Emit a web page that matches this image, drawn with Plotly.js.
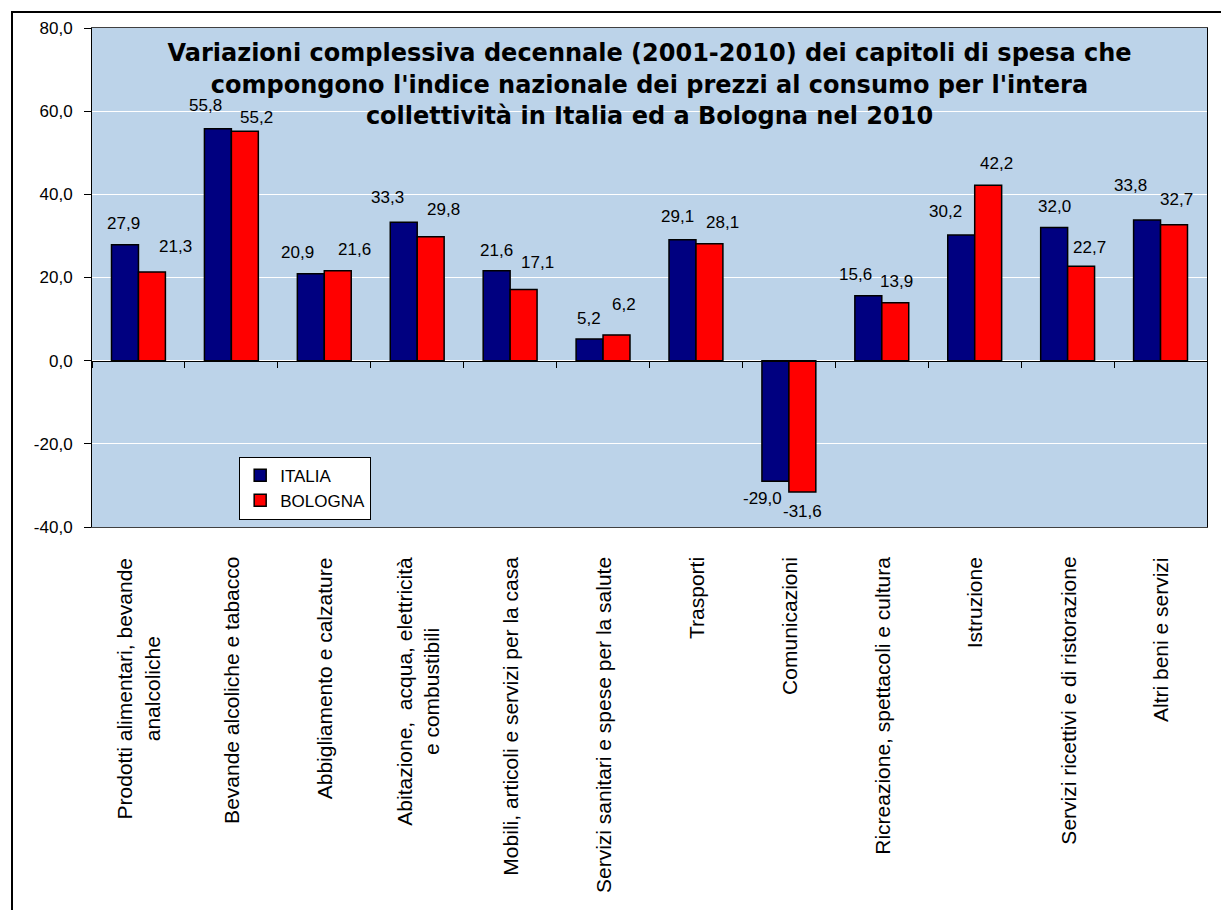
<!DOCTYPE html>
<html>
<head>
<meta charset="utf-8">
<script src="https://cdn.plot.ly/plotly-3.0.1.min.js"></script>
<style>
html,body{margin:0;padding:0;background:#fff;overflow:hidden;}
#wrap{position:relative;width:1221px;height:910px;}
#chart{position:absolute;left:0;top:0;width:1221px;height:910px;}
#frame{position:absolute;left:11px;top:11px;width:1300px;height:1000px;border:2px solid #000;pointer-events:none;}
</style>
</head>
<body>
<div id="wrap"><div id="chart"></div><div id="frame"></div></div>
<script>
// ---- data ----
const categories = [
  "Prodotti alimentari, bevande<br>analcoliche",
  "Bevande alcoliche e tabacco",
  "Abbigliamento e calzature",
  "Abitazione,  acqua, elettricità<br>e combustibili",
  "Mobili, articoli e servizi per la casa",
  "Servizi sanitari e spese per la salute",
  "Trasporti",
  "Comunicazioni",
  "Ricreazione, spettacoli e cultura",
  "Istruzione",
  "Servizi ricettivi e di ristorazione",
  "Altri beni e servizi"
];
const seriesNames = ["ITALIA", "BOLOGNA"];
const italia  = [27.9, 55.8, 20.9, 33.3, 21.6, 5.2, 29.1, -29.0, 15.6, 30.2, 32.0, 33.8];
const bologna = [21.3, 55.2, 21.6, 29.8, 17.1, 6.2, 28.1, -31.6, 13.9, 42.2, 22.7, 32.7];
const yTickVals = [-40, -20, 0, 20, 40, 60, 80];
const yTickText = ["-40,0", "-20,0", "0,0", "20,0", "40,0", "60,0", "80,0"];
const titleText = "Variazioni complessiva decennale (2001-2010) dei capitoli di spesa che<br>compongono l'indice nazionale dei prezzi al consumo per l'intera<br>collettività in Italia ed a Bologna nel 2010";

// ---- label placement styles (pixel shifts, as in the original) ----
const italiaLabelDx  = [-1, -12, -13, -16, 0, -1, -5, -13, -13, -16, 0, -17];
const italiaLabelDy  = [21, 23, 21, 25, 20, 21, 23, -17, 21, 24, 21, 35];
const bolognaLabelDx = [24, 12, 17, 13, 14, 7, 13, 0, 1, 8, 8, 2];
const bolognaLabelDy = [26, 14, 21, 27, 27, 30, 21, -19, 21, 22, 19, 25];

const colors = ["#000080", "#FF0000"];
const bargap = 0.42;
const yRange = [-40, 80];
const numFont = "Arial, Liberation Sans, sans-serif";

const fmt = v => v.toFixed(1).replace('.', ',');
const idx = categories.map((c, i) => i);

const traces = [
  {type: 'bar', name: seriesNames[0], x: idx, y: italia,
   marker: {color: colors[0], line: {color: '#000', width: 1.5}}, hoverinfo: 'y'},
  {type: 'bar', name: seriesNames[1], x: idx, y: bologna,
   marker: {color: colors[1], line: {color: '#000', width: 1.5}}, hoverinfo: 'y'},
  // invisible helper trace carrying the zero-line axis with boundary ticks
  {type: 'scatter', mode: 'none', x: idx, y: italia, xaxis: 'x2', yaxis: 'y',
   showlegend: false, hoverinfo: 'skip'}
];

const half = (1 - bargap) / 4; // half bar width in category units
const annotations = [];
function addLabels(vals, dx, dy, sign) {
  vals.forEach((v, i) => {
    annotations.push({
      x: i + sign * half, y: v, xref: 'x', yref: 'y',
      text: fmt(v), showarrow: false,
      xanchor: 'center', yanchor: 'middle',
      xshift: dx[i], yshift: dy[i],
      font: {family: numFont, size: 17, color: '#000'}
    });
  });
}
addLabels(italia, italiaLabelDx, italiaLabelDy, -1);
addLabels(bologna, bolognaLabelDx, bolognaLabelDy, 1);

categories.forEach((c, i) => {
  annotations.push({
    x: i, y: 0, xref: 'x', yref: 'paper',
    text: c, showarrow: false, textangle: -90,
    xanchor: 'center', yanchor: 'top', align: 'center', yshift: -28,
    font: {family: numFont, size: 21, color: '#000'}
  });
});

const zeroPos = (0 - yRange[0]) / (yRange[1] - yRange[0]);

const layout = {
  width: 1221, height: 910,
  margin: {l: 92, r: 14, t: 28, b: 383},
  paper_bgcolor: 'rgba(0,0,0,0)',
  plot_bgcolor: '#BCD3E9',
  barmode: 'group', bargap: bargap, bargroupgap: 0,
  title: {
    text: titleText, x: 0.5, xref: 'paper', xanchor: 'center',
    y: 0.933, yref: 'paper', yanchor: 'top',
    font: {family: 'DejaVu Sans, Verdana, sans-serif', size: 24, color: '#000', weight: 700}
  },
  xaxis: {
    type: 'linear', range: [-0.5, categories.length - 0.5],
    showticklabels: false, ticks: '', showgrid: false, zeroline: false,
    showline: true, linecolor: '#404040', linewidth: 1, mirror: true, fixedrange: true
  },
  xaxis2: {
    type: 'linear', overlaying: 'x', anchor: 'free', position: zeroPos,
    range: [-0.5, categories.length - 0.5],
    tickvals: idx.concat([categories.length]).map(i => i - 0.5),
    showticklabels: false, ticks: 'outside', ticklen: 6, tickcolor: '#000', tickwidth: 1,
    showgrid: false, zeroline: false, showline: true, linecolor: '#000', linewidth: 1,
    fixedrange: true
  },
  yaxis: {
    range: yRange, tickvals: yTickVals, ticktext: yTickText,
    ticks: 'outside', ticklen: 7, tickcolor: '#000', tickwidth: 1,
    ticklabelstandoff: 8,
    showgrid: true, gridcolor: '#FFFFFF', gridwidth: 1, zeroline: false,
    showline: true, linecolor: '#000', linewidth: 1, mirror: true,
    tickfont: {family: numFont, size: 17, color: '#000'}, fixedrange: true
  },
  legend: {
    x: 0.132, y: 0.141, xanchor: 'left', yanchor: 'top',
    bgcolor: '#FFFFFF', bordercolor: '#000', borderwidth: 1,
    font: {family: numFont, size: 17, color: '#000'},
    traceorder: 'normal', tracegroupgap: 2, itemwidth: 30
  },
  annotations: annotations,
  showlegend: true
};

Plotly.newPlot('chart', traces, layout, {staticPlot: true, displayModeBar: false});
</script>
</body>
</html>
